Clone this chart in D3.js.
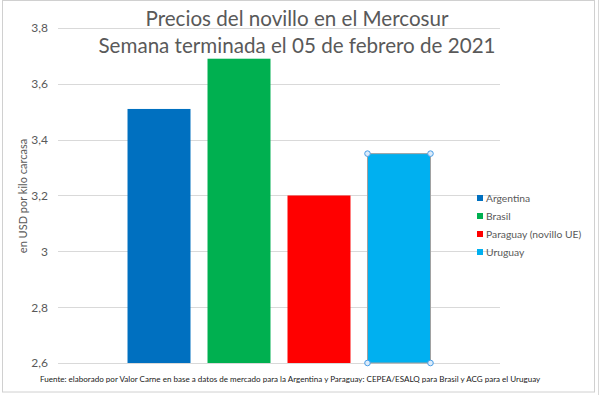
<!DOCTYPE html>
<html>
<head>
<meta charset="utf-8">
<script src="https://cdn.jsdelivr.net/npm/d3@7"></script>
<style>
  body { margin: 0; background: #fff; }
  text { font-family: Lato, "Open Sans", sans-serif; }
</style>
</head>
<body>
<div id="chart-area"></div>
<script>
// Data
const countries = ["Argentina", "Brasil", "Paraguay (novillo UE)", "Uruguay"]
const prices = [3.51, 3.69, 3.2, 3.35]
const colors = ["#0070C0", "#00B050", "#FF0000", "#00B0F0"]
const yTicks = [2.6, 2.8, 3.0, 3.2, 3.4, 3.6, 3.8]
const titleLines = ["Precios del novillo en el Mercosur", "Semana terminada el 05 de febrero de 2021"]
const yTitle = "en USD por kilo carcasa"
const source = "Fuente: elaborado por Valor Carne en base a datos de mercado para la Argentina y Paraguay: CEPEA/ESALQ para Brasil y ACG para el Uruguay"

const width = 600, height = 395
const plot = {left: 58, right: 500, top: 28, bottom: 363}

const svg = d3.select("#chart-area").append("svg")
    .attr("width", width)
    .attr("height", height)

// chart frame
svg.append("rect")
    .attr("x", 2.5).attr("y", 0.5)
    .attr("width", 592).attr("height", 391.5)
    .attr("fill", "#fff")
    .attr("stroke", "#d0d0d0")
svg.append("line")
    .attr("x1", 598.5).attr("x2", 598.5)
    .attr("y1", 0).attr("y2", 395)
    .attr("stroke", "#d8d8d8")

// Scales
const y = d3.scaleLinear().domain([2.6, 3.8]).range([plot.bottom, plot.top])
const x = d3.scaleBand()
    .domain(countries)
    .range([plot.left, plot.right])
    .paddingInner(0.2125)
    .paddingOuter(0.869)

// Gridlines
svg.append("g")
    .selectAll("line")
    .data(yTicks)
    .join("line")
    .attr("x1", plot.left).attr("x2", plot.right)
    .attr("y1", d => Math.round(y(d)) + 0.5)
    .attr("y2", d => Math.round(y(d)) + 0.5)
    .attr("stroke", "#d9d9d9")

// Y axis labels
const yAxis = svg.append("g")
    .attr("transform", `translate(${plot.left}, 0)`)
    .call(d3.axisLeft(y).tickValues(yTicks).tickSize(0).tickPadding(10)
        .tickFormat(d => d3.format(".1f")(d).replace(".0", "").replace(".", ",")))
yAxis.select(".domain").remove()
yAxis.selectAll("text")
    .attr("font-size", "12px")
    .attr("fill", "#595959")
    .style("font-family", "Lato, sans-serif")

// Y axis title
svg.append("text")
    .attr("transform", `translate(27, 196) rotate(-90)`)
    .attr("text-anchor", "middle")
    .attr("font-size", "11px")
    .attr("fill", "#595959")
    .text(yTitle)

// Bars
svg.append("g")
    .selectAll("rect")
    .data(countries)
    .join("rect")
    .attr("x", d => x(d))
    .attr("y", (d, i) => y(prices[i]))
    .attr("width", x.bandwidth())
    .attr("height", (d, i) => y(2.6) - y(prices[i]))
    .attr("fill", (d, i) => colors[i])

// selection outline on the last series
const sel = countries[3]
svg.append("rect")
    .attr("x", x(sel)).attr("y", y(prices[3]))
    .attr("width", x.bandwidth())
    .attr("height", y(2.6) - y(prices[3]))
    .attr("fill", "none")
    .attr("stroke", "#a0a0a0")
    .attr("stroke-width", 1)
const corners = [[x(sel), y(prices[3])], [x(sel) + x.bandwidth(), y(prices[3])],
    [x(sel), y(2.6)], [x(sel) + x.bandwidth(), y(2.6)]]
svg.append("g")
    .selectAll("circle")
    .data(corners)
    .join("circle")
    .attr("cx", d => d[0]).attr("cy", d => d[1])
    .attr("r", 2.8)
    .attr("fill", "#dcecfb")
    .attr("stroke", "#4a9ee6")
    .attr("stroke-width", 1)

// Title
svg.append("g")
    .selectAll("text")
    .data(titleLines)
    .join("text")
    .attr("x", 297)
    .attr("y", (d, i) => 26 + i * 27)
    .attr("text-anchor", "middle")
    .attr("font-size", "20.6px")
    .attr("fill", "#595959")
    .text(d => d)

// Legend
const legend = svg.append("g")
    .selectAll("g")
    .data(countries)
    .join("g")
    .attr("transform", (d, i) => `translate(477, ${198 + i * 18})`)
legend.append("rect")
    .attr("x", 0).attr("y", -3)
    .attr("width", 6).attr("height", 6)
    .attr("fill", (d, i) => colors[i])
legend.append("text")
    .attr("x", 9)
    .attr("dy", "0.35em")
    .attr("font-size", "10.3px")
    .attr("fill", "#595959")
    .text(d => d)

// Source note
svg.append("text")
    .attr("x", 40)
    .attr("y", 382)
    .attr("font-size", "8.05px")
    .attr("fill", "#1a1a1a")
    .text(source)
</script>
</body>
</html>
